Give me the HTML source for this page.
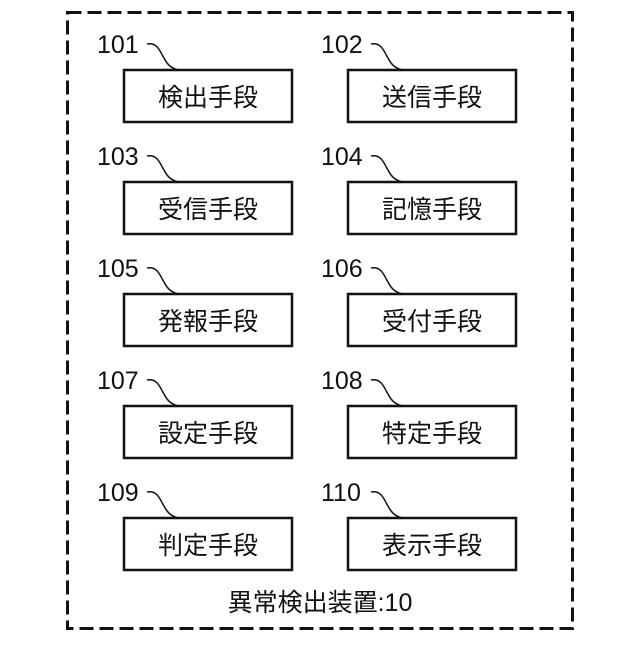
<!DOCTYPE html>
<html><head><meta charset="utf-8"><style>
body{margin:0;background:#fff}
svg text{font-family:"Liberation Sans","Noto Sans CJK JP",sans-serif;fill:#111}
</style></head><body>
<svg width="640" height="640" xmlns="http://www.w3.org/2000/svg">
<rect x="67.5" y="12.5" width="505" height="616" fill="none" stroke="#111" stroke-width="3" stroke-dasharray="14,6"/>
<g stroke="#111" stroke-width="2.5" fill="none">
<rect x="124" y="70" width="168" height="52"/><rect x="348" y="70" width="168" height="52"/>
<rect x="124" y="182" width="168" height="52"/><rect x="348" y="182" width="168" height="52"/>
<rect x="124" y="294" width="168" height="52"/><rect x="348" y="294" width="168" height="52"/>
<rect x="124" y="406" width="168" height="52"/><rect x="348" y="406" width="168" height="52"/>
<rect x="124" y="518" width="168" height="52"/><rect x="348" y="518" width="168" height="52"/>
</g>
<g stroke="#111" stroke-width="1.5" fill="none">
<path id="sq" d="M147,44 C158,42 160,52 164,58 C168,66 172,68 178,70"/>
<use href="#sq" x="224"/>
<use href="#sq" y="112"/><use href="#sq" x="224" y="112"/>
<use href="#sq" y="224"/><use href="#sq" x="224" y="224"/>
<use href="#sq" y="336"/><use href="#sq" x="224" y="336"/>
<use href="#sq" y="448"/><use href="#sq" x="224" y="448"/>
</g>
<g font-size="25">
<text x="97" y="53">101</text><text x="321" y="53">102</text>
<text x="97" y="165">103</text><text x="321" y="165">104</text>
<text x="97" y="277">105</text><text x="321" y="277">106</text>
<text x="97" y="389">107</text><text x="321" y="389">108</text>
<text x="97" y="501">109</text><text x="321" y="501">110</text>
</g>
<g font-size="25" text-anchor="middle">
<text x="208" y="106">検出手段</text><text x="432" y="106">送信手段</text>
<text x="208" y="218">受信手段</text><text x="432" y="218">記憶手段</text>
<text x="208" y="330">発報手段</text><text x="432" y="330">受付手段</text>
<text x="208" y="442">設定手段</text><text x="432" y="442">特定手段</text>
<text x="208" y="554">判定手段</text><text x="432" y="554">表示手段</text>
<text x="320" y="611">異常検出装置:10</text>
</g>
</svg>
</body></html>
